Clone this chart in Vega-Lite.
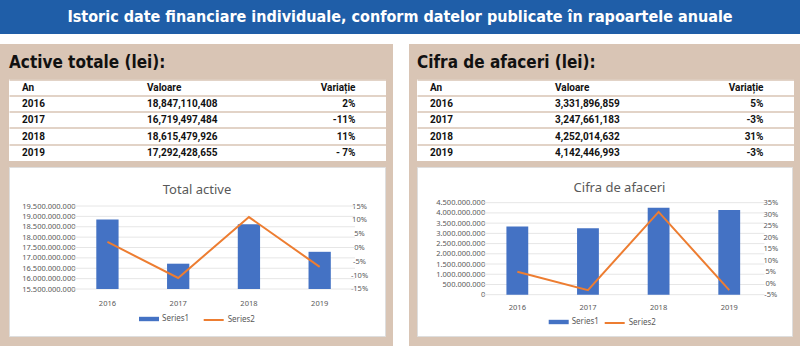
{
  "$schema": "https://vega.github.io/schema/vega-lite/v6.json",
  "background": "#d9c5b5",
  "padding": 0,
  "spacing": 0,
  "config": {
    "view": {"stroke": null},
    "locale": {"number": {"decimal": ",", "thousands": ".", "grouping": [3], "currency": ["", ""], "minus": "-", "percent": "%"}},
    "axis": {"labelFont": "Noto Sans", "labelColor": "#595959", "labelFontSize": 7.5},
    "legend": {"labelFont": "Noto Sans", "labelColor": "#595959", "labelFontSize": 8, "padding": 0, "labelOffset": 3},
    "title": {"font": "Noto Sans", "color": "#595959", "fontWeight": "normal", "fontSize": 13}
  },
  "datasets": {
    "active": [
      {"year": "2016", "value": 18847110408, "pct": 0.02},
      {"year": "2017", "value": 16719497484, "pct": -0.11},
      {"year": "2018", "value": 18615479926, "pct": 0.11},
      {"year": "2019", "value": 17292428655, "pct": -0.07}
    ],
    "cifra": [
      {"year": "2016", "value": 3331896859, "pct": 0.05},
      {"year": "2017", "value": 3247661183, "pct": -0.03},
      {"year": "2018", "value": 4252014632, "pct": 0.31},
      {"year": "2019", "value": 4142446993, "pct": -0.03}
    ],
    "activeGrid": [
      {"g": 15500000000}, {"g": 16000000000}, {"g": 16500000000}, {"g": 17000000000}, {"g": 17500000000},
      {"g": 18000000000}, {"g": 18500000000}, {"g": 19000000000}, {"g": 19500000000}
    ],
    "cifraGrid": [
      {"g": 0}, {"g": 500000000}, {"g": 1000000000}, {"g": 1500000000}, {"g": 2000000000},
      {"g": 2500000000}, {"g": 3000000000}, {"g": 3500000000}, {"g": 4000000000}, {"g": 4500000000}
    ],
    "activeTable": [
      {"r": "h", "c1": "An", "c2": "Valoare", "c3": "Variație"},
      {"r": "2016", "c1": "2016", "c2": "18,847,110,408", "c3": "2%"},
      {"r": "2017", "c1": "2017", "c2": "16,719,497,484", "c3": "-11%"},
      {"r": "2018", "c1": "2018", "c2": "18,615,479,926", "c3": "11%"},
      {"r": "2019", "c1": "2019", "c2": "17,292,428,655", "c3": "- 7%"}
    ],
    "cifraTable": [
      {"r": "h", "c1": "An", "c2": "Valoare", "c3": "Variație"},
      {"r": "2016", "c1": "2016", "c2": "3,331,896,859", "c3": "5%"},
      {"r": "2017", "c1": "2017", "c2": "3,247,661,183", "c3": "-3%"},
      {"r": "2018", "c1": "2018", "c2": "4,252,014,632", "c3": "31%"},
      {"r": "2019", "c1": "2019", "c2": "4,142,446,993", "c3": "-3%"}
    ],
    "banner": [{"t": "Istoric date financiare individuale, conform datelor publicate  în rapoartele anuale"}],
    "empty": []
  },
  "vconcat": [
    {
      "width": 800, "height": 34,
      "view": {"fill": "#1f5ea8", "stroke": null},
      "data": {"name": "banner"},
      "mark": {"type": "text", "color": "white", "font": "DejaVu Sans Condensed, sans-serif", "fontWeight": "bold", "fontSize": 16, "baseline": "middle", "align": "center"},
      "encoding": {
        "x": {"field": "t", "type": "nominal", "axis": null},
        "y": {"field": "t", "type": "nominal", "axis": null},
        "text": {"field": "t"}
      }
    },
    {
      "width": 800, "height": 10,
      "view": {"fill": "white", "stroke": null},
      "data": {"name": "empty"},
      "mark": "text",
      "encoding": {}
    },
    {
      "spacing": 7,
      "hconcat": [
        {"width": 1, "height": 1, "data": {"name": "empty"}, "mark": "text", "encoding": {}},
        {
          "spacing": 4.5,
          "resolve": {"scale": {"fill": "independent", "stroke": "independent"}, "legend": {"fill": "independent", "stroke": "independent"}},
          "vconcat": [
            {
              "width": 377, "height": 30.5,
              "data": {"values": [{"h": "Active totale (lei):"}]},
              "mark": {"type": "text", "align": "left", "baseline": "alphabetic", "dy": 9, "fontSize": 17, "fontWeight": "bold", "font": "DejaVu Sans Condensed, sans-serif", "color": "#111111"},
              "encoding": {
                "x": {"field": "h", "type": "nominal", "axis": null, "bandPosition": 0, "scale": {"type": "band", "paddingInner": 0, "paddingOuter": 0}},
                "y": {"field": "h", "type": "nominal", "axis": null},
                "text": {"field": "h"}
              }
            },
            {
              "width": 377, "height": 81.5,
              "view": {"fill": "white", "stroke": null},
              "data": {"name": "activeTable"},
              "encoding": {
                "y": {"field": "r", "type": "nominal", "bandPosition": 0.5,
                  "scale": {"type": "band", "domain": ["h", "2016", "2017", "2018", "2019"], "paddingInner": 0, "paddingOuter": 0},
                  "axis": {"title": null, "labels": false, "ticks": false, "domain": false, "grid": true, "gridColor": "#d9c5b5", "gridWidth": 1.5, "bandPosition": 0}}
              },
              "layer": [
                {
                  "mark": {"type": "text", "align": "left", "baseline": "middle", "fontSize": 10, "fontWeight": "bold", "font": "Roboto", "color": "#111111"},
                  "encoding": {
                    "x": {"datum": "c1", "type": "nominal", "bandPosition": 0, "axis": null,
                      "scale": {"type": "band", "domain": ["c1", "c2", "c3"], "paddingInner": 0.332, "paddingOuter": 0.174, "align": 0.299}},
                    "text": {"field": "c1"}
                  }
                },
                {
                  "mark": {"type": "text", "align": "left", "baseline": "middle", "fontSize": 10, "fontWeight": "bold", "font": "Roboto", "color": "#111111"},
                  "encoding": {
                    "x": {"datum": "c2", "type": "nominal", "bandPosition": 0, "axis": null},
                    "text": {"field": "c2"}
                  }
                },
                {
                  "mark": {"type": "text", "align": "right", "baseline": "middle", "fontSize": 10, "fontWeight": "bold", "font": "Roboto", "color": "#111111"},
                  "encoding": {
                    "x": {"datum": "c3", "type": "nominal", "bandPosition": 1, "axis": null},
                    "text": {"field": "c3"}
                  }
                }
              ]
            },
            {
              "width": 376, "height": 169,
              "view": {"fill": "white", "stroke": "#dedede"},
              "data": {"name": "active"},
              "title": {"text": "Total active", "offset": -30, "anchor": "middle"},
              "encoding": {
                "x": {"field": "year", "type": "nominal",
                  "scale": {"type": "band", "paddingInner": 0.685, "paddingOuter": 1.257, "align": 0.617},
                  "axis": {"title": null, "orient": "bottom", "offset": -47, "labelAngle": 0, "domain": false, "ticks": false, "tickSize": 0, "labelPadding": 14, "labelBaseline": "middle", "grid": false}}
              },
              "layer": [
                {
                  "data": {"name": "activeGrid"},
                  "mark": {"type": "rule", "color": "#e6e6e6", "strokeWidth": 1},
                  "encoding": {
                    "y": {"field": "g", "type": "quantitative", "scale": {"domain": [13235000000, 21379500000], "nice": false, "zero": false}, "axis": null},
                    "x": {"datum": "2016", "type": "nominal", "bandPosition": -1.086},
                    "x2": {"datum": "2019", "bandPosition": 2.09}
                  }
                },
                {
                  "mark": {"type": "bar"},
                  "encoding": {
                    "y": {"field": "value", "type": "quantitative",
                      "scale": {"domain": [13235000000, 21379500000], "nice": false, "zero": false},
                      "axis": {"title": null, "orient": "left", "values": [15500000000, 16000000000, 16500000000, 17000000000, 17500000000, 18000000000, 18500000000, 19000000000, 19500000000], "format": ",d", "offset": -66, "labelPadding": 0, "ticks": false, "tickSize": 0, "domain": false, "grid": false}},
                    "y2": {"datum": 15500000000},
                    "fill": {"datum": "Series1", "type": "nominal",
                      "scale": {"domain": ["Series1"], "range": ["#4472c4"]},
                      "legend": {"orient": "none", "legendX": 130, "legendY": 142, "title": null, "symbolType": "M-1,-0.22H1V0.22H-1Z", "symbolSize": 400, "symbolStrokeWidth": 0}}
                  }
                },
                {
                  "mark": {"type": "line", "strokeWidth": 2},
                  "encoding": {
                    "y": {"field": "pct", "type": "quantitative",
                      "scale": {"domain": [-0.3199, 0.291], "nice": false, "zero": false},
                      "axis": {"title": null, "orient": "right", "values": [-0.15, -0.1, -0.05, 0, 0.05, 0.1, 0.15], "format": ".0%", "offset": -26, "labelPadding": 0, "labelAlign": "center", "ticks": false, "tickSize": 0, "domain": false, "grid": false}},
                    "stroke": {"datum": "Series2", "type": "nominal",
                      "scale": {"domain": ["Series2"], "range": ["#ed7d31"]},
                      "legend": {"orient": "none", "legendX": 193.7, "legendY": 142, "title": null, "symbolType": "stroke", "symbolSize": 400, "symbolStrokeWidth": 2}}
                  }
                }
              ],
              "resolve": {"scale": {"y": "independent"}}
            }
          ]
        },
        {"width": 16, "height": 302, "view": {"fill": "white", "stroke": null}, "data": {"name": "empty"}, "mark": "text", "encoding": {}},
        {
          "spacing": 4.5,
          "resolve": {"scale": {"fill": "independent", "stroke": "independent"}, "legend": {"fill": "independent", "stroke": "independent"}},
          "vconcat": [
            {
              "width": 377, "height": 30.5,
              "data": {"values": [{"h": "Cifra de afaceri (lei):"}]},
              "mark": {"type": "text", "align": "left", "baseline": "alphabetic", "dy": 9, "fontSize": 17, "fontWeight": "bold", "font": "DejaVu Sans Condensed, sans-serif", "color": "#111111"},
              "encoding": {
                "x": {"field": "h", "type": "nominal", "axis": null, "bandPosition": 0, "scale": {"type": "band", "paddingInner": 0, "paddingOuter": 0}},
                "y": {"field": "h", "type": "nominal", "axis": null},
                "text": {"field": "h"}
              }
            },
            {
              "width": 377, "height": 81.5,
              "view": {"fill": "white", "stroke": null},
              "data": {"name": "cifraTable"},
              "encoding": {
                "y": {"field": "r", "type": "nominal", "bandPosition": 0.5,
                  "scale": {"type": "band", "domain": ["h", "2016", "2017", "2018", "2019"], "paddingInner": 0, "paddingOuter": 0},
                  "axis": {"title": null, "labels": false, "ticks": false, "domain": false, "grid": true, "gridColor": "#d9c5b5", "gridWidth": 1.5, "bandPosition": 0}}
              },
              "layer": [
                {
                  "mark": {"type": "text", "align": "left", "baseline": "middle", "fontSize": 10, "fontWeight": "bold", "font": "Roboto", "color": "#111111"},
                  "encoding": {
                    "x": {"datum": "c1", "type": "nominal", "bandPosition": 0, "axis": null,
                      "scale": {"type": "band", "domain": ["c1", "c2", "c3"], "paddingInner": 0.332, "paddingOuter": 0.174, "align": 0.299}},
                    "text": {"field": "c1"}
                  }
                },
                {
                  "mark": {"type": "text", "align": "left", "baseline": "middle", "fontSize": 10, "fontWeight": "bold", "font": "Roboto", "color": "#111111"},
                  "encoding": {
                    "x": {"datum": "c2", "type": "nominal", "bandPosition": 0, "axis": null},
                    "text": {"field": "c2"}
                  }
                },
                {
                  "mark": {"type": "text", "align": "right", "baseline": "middle", "fontSize": 10, "fontWeight": "bold", "font": "Roboto", "color": "#111111"},
                  "encoding": {
                    "x": {"datum": "c3", "type": "nominal", "bandPosition": 1, "axis": null},
                    "text": {"field": "c3"}
                  }
                }
              ]
            },
            {
              "width": 375, "height": 169,
              "view": {"fill": "white", "stroke": "#dedede"},
              "data": {"name": "cifra"},
              "title": {"text": "Cifra de afaceri", "offset": -28, "anchor": "middle", "dx": 15},
              "encoding": {
                "x": {"field": "year", "type": "nominal",
                  "scale": {"type": "band", "paddingInner": 0.691, "paddingOuter": 1.148, "align": 0.633},
                  "axis": {"title": null, "orient": "bottom", "offset": -41.3, "labelAngle": 0, "domain": false, "ticks": false, "tickSize": 0, "labelPadding": 13, "labelBaseline": "middle", "grid": false}}
              },
              "layer": [
                {
                  "data": {"name": "cifraGrid"},
                  "mark": {"type": "rule", "color": "#e6e6e6", "strokeWidth": 1},
                  "encoding": {
                    "y": {"field": "g", "type": "quantitative", "scale": {"domain": [-2020000000, 6246000000], "nice": false, "zero": false}, "axis": null},
                    "x": {"datum": "2016", "type": "nominal", "bandPosition": -1.116},
                    "x2": {"datum": "2019", "bandPosition": 2.116}
                  }
                },
                {
                  "mark": {"type": "bar"},
                  "encoding": {
                    "y": {"field": "value", "type": "quantitative",
                      "scale": {"domain": [-2020000000, 6246000000], "nice": false, "zero": false},
                      "axis": {"title": null, "orient": "left", "values": [0, 500000000, 1000000000, 1500000000, 2000000000, 2500000000, 3000000000, 3500000000, 4000000000, 4500000000], "format": ",d", "offset": -67.7, "labelPadding": 0, "ticks": false, "tickSize": 0, "domain": false, "grid": false}},
                    "y2": {"datum": 0},
                    "fill": {"datum": "Series1", "type": "nominal",
                      "scale": {"domain": ["Series1"], "range": ["#4472c4"]},
                      "legend": {"orient": "none", "legendX": 131.7, "legendY": 145, "title": null, "symbolType": "M-1,-0.22H1V0.22H-1Z", "symbolSize": 400, "symbolStrokeWidth": 0}}
                  }
                },
                {
                  "mark": {"type": "line", "strokeWidth": 2},
                  "encoding": {
                    "y": {"field": "pct", "type": "quantitative",
                      "scale": {"domain": [-0.2296, 0.5052], "nice": false, "zero": false},
                      "axis": {"title": null, "orient": "right", "values": [-0.05, 0, 0.05, 0.1, 0.15, 0.2, 0.25, 0.3, 0.35], "format": ".0%", "offset": -21.7, "labelPadding": 0, "labelAlign": "center", "ticks": false, "tickSize": 0, "domain": false, "grid": false}},
                    "stroke": {"datum": "Series2", "type": "nominal",
                      "scale": {"domain": ["Series2"], "range": ["#ed7d31"]},
                      "legend": {"orient": "none", "legendX": 186.7, "legendY": 145, "title": null, "symbolType": "stroke", "symbolSize": 400, "symbolStrokeWidth": 2}}
                  }
                }
              ],
              "resolve": {"scale": {"y": "independent"}}
            }
          ]
        }
      ]
    }
  ]
}
